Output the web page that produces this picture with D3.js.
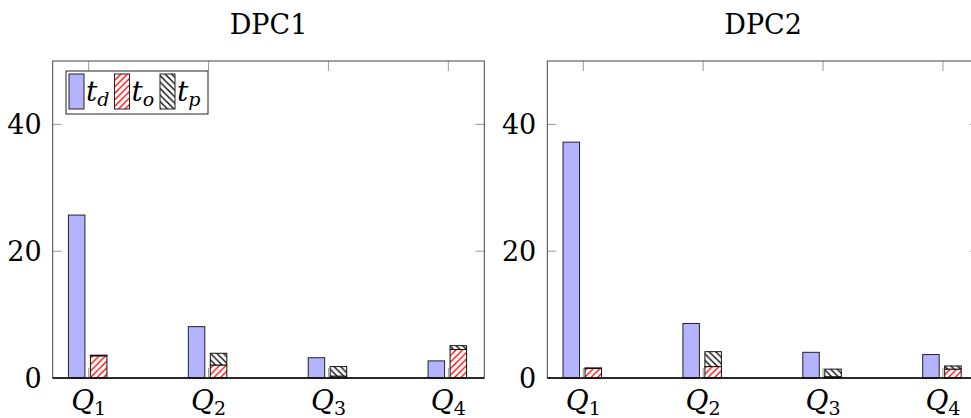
<!DOCTYPE html>
<meta charset="utf-8">
<style>
body { margin: 0; background: #fff; }
.frame { fill: none; stroke: #444; stroke-width: 1; }
.tick line { stroke: #999; }
</style>
<body>
<script src="https://d3js.org/d3.v7.min.js"></script>
<script>

var width = 971
var height = 418

// data
var panels = ["DPC1", "DPC2"]
var quarters = ["1", "2", "3", "4"]
var yTicks = [0, 20, 40]

var dpc1_td = [25.7, 8.1, 3.2, 2.7]
var dpc1_to = [3.5, 2.05, 0.3, 4.5]
var dpc1_tp = [0.1, 1.85, 1.5, 0.6]

var dpc2_td = [37.2, 8.6, 4.05, 3.7]
var dpc2_to = [1.5, 1.8, 0.2, 1.4]
var dpc2_tp = [0.1, 2.35, 1.2, 0.5]

var series = [
  {td: dpc1_td, to: dpc1_to, tp: dpc1_tp},
  {td: dpc2_td, to: dpc2_to, tp: dpc2_tp}
]

var serif = "DejaVu Serif"

var svg = d3.select("body").append("svg")
    .attr("width", width)
    .attr("height", height)

// hatch patterns
var defs = svg.append("defs")
function hatch(id, color, dir) {
  var s = 6.5
  var p = defs.append("pattern")
      .attr("id", id)
      .attr("patternUnits", "userSpaceOnUse")
      .attr("width", s)
      .attr("height", s)
  p.append("rect").attr("width", s).attr("height", s).attr("fill", "#fff")
  var segs = dir == "ne"
    ? [[0, s, s, 0], [-1, 1, 1, -1], [s - 1, s + 1, s + 1, s - 1]]
    : [[0, 0, s, s], [-1, s - 1, 1, s + 1], [s - 1, -1, s + 1, 1]]
  segs.forEach(function(d) {
    p.append("line")
        .attr("x1", d[0]).attr("y1", d[1]).attr("x2", d[2]).attr("y2", d[3])
        .attr("stroke", color)
        .attr("stroke-width", 1.3)
  })
}
hatch("ne-red", "#ff0000", "ne")
hatch("nw-black", "#000", "nw")

var fills = {td: "#b3b3ff", to: "url(#ne-red)", tp: "url(#nw-black)"}

var panelX = [[52.7, 484.3], [547.3, 978.9]]
var plotTop = 61, plotBottom = 378
var barW = 16.5

var y = d3.scaleLinear()
    .domain([0, 50])
    .range([plotBottom, plotTop])

panels.forEach(function(name, pi) {

  var x = d3.scaleLinear()
      .domain([0.7, 4.3])
      .range(panelX[pi])

  var g = svg.append("g")
  var data = series[pi]
  var x0 = panelX[pi][0], x1 = panelX[pi][1]

  // title
  g.append("text")
      .attr("x", (x0 + x1) / 2)
      .attr("y", 34)
      .attr("text-anchor", "middle")
      .attr("font-family", serif)
      .attr("font-size", 27)
      .text(name)

  // ticks inside the frame, mirrored
  var tg = g.append("g").attr("class", "tick")
  yTicks.slice(1).forEach(function(t) {
    tg.append("line").attr("x1", x0).attr("x2", x0 + 9).attr("y1", y(t)).attr("y2", y(t))
    tg.append("line").attr("x1", x1 - 9).attr("x2", x1).attr("y1", y(t)).attr("y2", y(t))
  })
  quarters.forEach(function(q, i) {
    tg.append("line").attr("x1", x(i + 1)).attr("x2", x(i + 1)).attr("y1", plotTop).attr("y2", plotTop + 10)
    tg.append("line").attr("x1", x(i + 1)).attr("x2", x(i + 1)).attr("y1", plotBottom - 10).attr("y2", plotBottom)
  })

  // y tick labels
  g.selectAll(".ylab").data(yTicks).enter().append("text")
      .attr("x", x0 - 11)
      .attr("y", function(d) { return y(d) + 10 })
      .attr("text-anchor", "end")
      .attr("font-family", serif)
      .attr("font-size", 27)
      .text(function(d) { return d })

  // bars
  var bars = g.append("g")
  quarters.forEach(function(q, i) {
    var cx = x(i + 1)
    bars.append("rect")
        .attr("x", cx - 12 - barW / 2)
        .attr("y", y(data.td[i]))
        .attr("width", barW)
        .attr("height", y(0) - y(data.td[i]))
        .attr("fill", fills.td)
        .attr("stroke", "#222")
        .attr("stroke-width", 1)
    var base = 0
    ;["to", "tp"].forEach(function(k) {
      var v = data[k][i]
      bars.append("rect")
          .attr("x", cx + 10 - barW / 2)
          .attr("y", y(base + v))
          .attr("width", barW)
          .attr("height", y(base) - y(base + v))
          .attr("fill", fills[k])
          .attr("stroke", "#111")
          .attr("stroke-width", 1)
      base += v
    })
  })

  // x labels Q_i
  quarters.forEach(function(q, i) {
    var t = g.append("text")
        .attr("x", x(i + 1))
        .attr("y", 410)
        .attr("text-anchor", "middle")
        .attr("font-family", serif)
    t.append("tspan").attr("font-style", "italic").attr("font-size", 28).text("Q")
    t.append("tspan").attr("dy", 5).attr("font-size", 19).text(q)
  })

  // frame
  g.append("rect")
      .attr("class", "frame")
      .attr("x", x0).attr("y", plotTop)
      .attr("width", x1 - x0).attr("height", plotBottom - plotTop)
  g.append("line")
      .attr("x1", x0).attr("x2", x1)
      .attr("y1", plotBottom).attr("y2", plotBottom)
      .attr("stroke", "#000").attr("stroke-width", 1.4)
})

// legend
var legendKeys = ["d", "o", "p"]
var legendFill = [fills.td, fills.to, fills.tp]
var lg = svg.append("g")
lg.append("rect")
    .attr("x", 66).attr("y", 71)
    .attr("width", 142).attr("height", 43)
    .attr("fill", "#fff").attr("stroke", "#222")
legendKeys.forEach(function(k, i) {
  var lx = 69 + i * 45.5
  lg.append("rect")
      .attr("x", lx).attr("y", 74)
      .attr("width", 15).attr("height", 35)
      .attr("fill", legendFill[i])
      .attr("stroke", "#222")
  var t = lg.append("text")
      .attr("x", lx + 17)
      .attr("y", 101)
      .attr("font-family", serif)
  t.append("tspan").attr("font-style", "italic").attr("font-size", 28).text("t")
  t.append("tspan").attr("dy", 5).attr("font-style", "italic").attr("font-size", 19).text(k)
})

</script>
